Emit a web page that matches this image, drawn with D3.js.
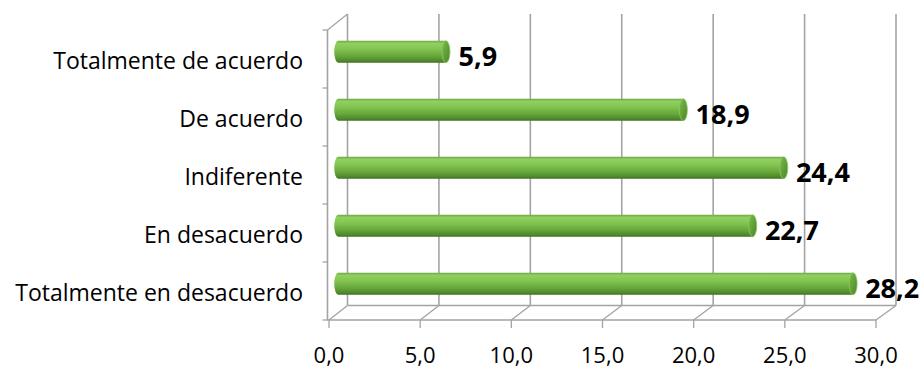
<!DOCTYPE html>
<html>
<head>
<meta charset="utf-8">
<script src="https://cdn.jsdelivr.net/npm/d3@7"></script>
<style>
  html, body { margin: 0; padding: 0; background: #fff; }
  svg { display: block; }
  text { font-family: "Open Sans", "Noto Sans", sans-serif; fill: #000; }
</style>
</head>
<body>
<svg id="chart" width="924" height="369"></svg>
<script>
// Survey answers, top to bottom, and the share (%) for each
const categories = [
  "Totalmente de acuerdo",
  "De acuerdo",
  "Indiferente",
  "En desacuerdo",
  "Totalmente en desacuerdo"
];
const values = [5.9, 18.9, 24.4, 22.7, 28.2];
const xTicks = [0, 5, 10, 15, 20, 25, 30];

const fmt = v => v.toFixed(1).replace(".", ",");

const svg = d3.select("#chart");

// Front and back planes of the 3-D box
const xFront = d3.scaleLinear().domain([0, 30]).range([329, 876]);
const xBack = d3.scaleLinear().domain([0, 30]).range([347.5, 896]);
const xMid = d3.scaleLinear().domain([0, 30]).range([338.25, 886]);
const depthY = -14.5;
const yFront = d3.scaleBand().domain(categories).range([30, 320]).padding(0);
const floorY = yFront.range()[1];
const topY = 14;

const grid = "#a3a3a3";
const g = svg.append("g");

// back wall gridlines
g.selectAll("line.back").data(xTicks).join("line")
  .attr("x1", d => xBack(d)).attr("x2", d => xBack(d))
  .attr("y1", topY).attr("y2", floorY + depthY)
  .attr("stroke", grid).attr("stroke-width", 1.6);

// floor: diagonals from front ticks to back gridlines
g.selectAll("line.floor").data(xTicks).join("line")
  .attr("x1", d => xFront(d)).attr("y1", floorY)
  .attr("x2", d => xBack(d)).attr("y2", floorY + depthY)
  .attr("stroke", grid).attr("stroke-width", 1.3);

// floor back edge and front edge
g.append("line")
  .attr("x1", xBack(0)).attr("x2", xBack(30))
  .attr("y1", floorY + depthY).attr("y2", floorY + depthY)
  .attr("stroke", grid).attr("stroke-width", 1.3);
g.append("line")
  .attr("x1", xFront(0) - 2).attr("x2", xFront(30))
  .attr("y1", floorY).attr("y2", floorY)
  .attr("stroke", grid).attr("stroke-width", 1.6);

// left wall
const wallX = xFront(0) - 1.5;
g.append("line")
  .attr("x1", wallX).attr("x2", wallX)
  .attr("y1", yFront.range()[0]).attr("y2", floorY)
  .attr("stroke", grid).attr("stroke-width", 1.6);
g.append("line")
  .attr("x1", wallX).attr("y1", yFront.range()[0])
  .attr("x2", xBack(0)).attr("y2", topY)
  .attr("stroke", grid).attr("stroke-width", 1.3);

// category ticks on the wall
const yBounds = categories.map(c => yFront(c)).concat([floorY]);
g.selectAll("line.ytick").data(yBounds).join("line")
  .attr("x1", wallX - 5).attr("x2", wallX)
  .attr("y1", d => d).attr("y2", d => d)
  .attr("stroke", grid).attr("stroke-width", 1.3);

// value ticks below the floor
g.selectAll("line.xtick").data(xTicks).join("line")
  .attr("x1", d => xFront(d)).attr("x2", d => xFront(d))
  .attr("y1", floorY).attr("y2", floorY + 8)
  .attr("stroke", grid).attr("stroke-width", 1.3);

// axis labels
svg.append("g").selectAll("text").data(xTicks).join("text")
  .attr("x", d => xFront(d)).attr("y", 363)
  .attr("text-anchor", "middle")
  .attr("font-size", 22)
  .text(d => fmt(d));

svg.append("g").selectAll("text").data(categories).join("text")
  .attr("x", 303)
  .attr("y", d => yFront(d) + yFront.bandwidth() / 2 + 10)
  .attr("text-anchor", "end")
  .attr("font-size", 23)
  .text(d => d);

// cylinder shading
const defs = svg.append("defs");
const grad = defs.append("linearGradient").attr("id", "cyl")
  .attr("x1", 0).attr("y1", 0).attr("x2", 0).attr("y2", 1);
[[0, "#6da840"], [0.12, "#8fd061"], [0.35, "#84c653"], [0.7, "#67a63b"], [0.9, "#4f8a2b"], [1, "#3f7222"]]
  .forEach(([o, c]) => grad.append("stop").attr("offset", o).attr("stop-color", c));
const capGrad = defs.append("linearGradient").attr("id", "cap")
  .attr("x1", 0).attr("y1", 0).attr("x2", 1).attr("y2", 1);
[[0, "#7cbd4b"], [1, "#4a8428"]]
  .forEach(([o, c]) => capGrad.append("stop").attr("offset", o).attr("stop-color", c));

const barH = 22;
const rx = 4;
const rows = categories.map((c, i) => ({ cat: c, v: values[i] }));
const bars = svg.append("g").selectAll("g").data(rows).join("g");

const cy = d => yFront(d.cat) + yFront.bandwidth() / 2 + depthY / 2;

bars.append("path")
  .attr("d", d => {
    const x0 = xMid(0), x1 = xMid(d.v), t = cy(d) - barH / 2, b = cy(d) + barH / 2;
    return `M${x0},${t} L${x1},${t} L${x1},${b} L${x0},${b} A${rx},${barH / 2} 0 0 1 ${x0},${t} Z`;
  })
  .attr("fill", "url(#cyl)");

bars.append("ellipse")
  .attr("cx", d => xMid(d.v)).attr("cy", cy)
  .attr("rx", rx).attr("ry", barH / 2)
  .attr("fill", "url(#cap)")
  .attr("stroke", "#8cc95e").attr("stroke-width", 0.8);

// value labels
svg.append("g").selectAll("text").data(rows).join("text")
  .attr("x", d => xFront(d.v) + 22)
  .attr("y", d => yFront(d.cat) + yFront.bandwidth() / 2 + 7)
  .attr("font-size", 27)
  .attr("font-weight", "bold")
  .text(d => fmt(d.v));
</script>
</body>
</html>
